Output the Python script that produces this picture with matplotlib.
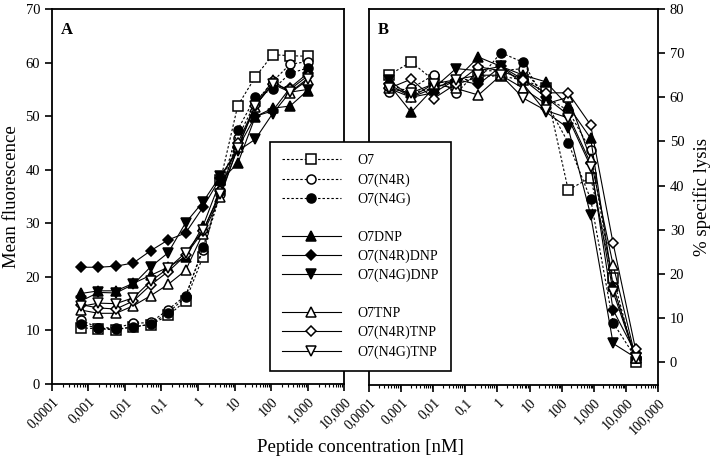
import matplotlib
matplotlib.use("Agg")
import matplotlib.pyplot as plt
from matplotlib.lines import Line2D
from matplotlib.ticker import LogLocator, FixedLocator, NullFormatter

plt.rcParams['font.family'] = ['Liberation Serif', 'DejaVu Serif']

# peptide concentrations (nM)
conc_a = [0.000627, 0.00188, 0.00565, 0.0169, 0.0508, 0.152, 0.457,
          1.37, 4.12, 12.3, 37.0, 111, 333, 1000]
conc_b = [0.00041, 0.00205, 0.0102, 0.0512, 0.256, 1.28, 6.4,
          32, 160, 800, 4000, 20000]

names = ['O7', 'O7(N4R)', 'O7(N4G)',
         'O7DNP', 'O7(N4R)DNP', 'O7(N4G)DNP',
         'O7TNP', 'O7(N4R)TNP', 'O7(N4G)TNP']

# panel A: mean fluorescence
fluor_o7 = [10.5, 10.3, 10.1, 10.7, 11.1, 12.8, 15.5, 23.8, 38.0, 52.0, 57.3, 61.5, 61.3, 61.2]
fluor_n4r = [11.9, 10.5, 10.5, 11.3, 11.5, 13.9, 16.5, 25.0, 35.5, 46.0, 52.5, 56.5, 59.7, 60.2]
fluor_n4g = [11.2, 10.4, 10.3, 10.6, 11.2, 13.3, 16.2, 25.5, 36.0, 47.5, 53.5, 55.0, 58.0, 59.0]
fluor_dnp = [16.9, 17.4, 17.4, 18.8, 20.3, 21.8, 23.8, 29.5, 38.0, 41.2, 49.9, 51.5, 51.9, 54.8]
fluor_n4r_dnp = [21.8, 21.8, 22.0, 22.6, 24.9, 26.9, 28.2, 33.0, 38.5, 44.0, 50.0, 51.0, 55.3, 58.0]
fluor_n4g_dnp = [15.5, 17.1, 17.0, 18.6, 21.9, 24.5, 30.1, 34.0, 38.9, 43.5, 45.7, 50.5, 54.5, 55.0]
fluor_tnp = [13.8, 13.2, 13.2, 14.6, 16.5, 18.6, 21.2, 28.1, 35.0, 44.3, 51.8, 56.7, 54.4, 56.7]
fluor_n4r_tnp = [14.8, 14.2, 14.0, 15.5, 18.5, 21.0, 24.0, 28.5, 36.0, 45.0, 52.0, 56.0, 55.0, 57.5]
fluor_n4g_tnp = [14.5, 15.1, 15.0, 16.1, 19.2, 21.6, 24.5, 28.7, 35.5, 44.0, 52.0, 56.0, 54.5, 57.0]

# panel B: % specific lysis
lysis_o7 = [65.0, 68.0, 63.9, 62.8, 64.8, 64.8, 63.9, 62.0, 39.0, 41.8, 19.1, 0.0]
lysis_n4r = [61.3, 62.0, 65.0, 60.9, 66.0, 66.0, 66.5, 60.0, 57.0, 48.0, 17.0, 1.0]
lysis_n4g = [63.0, 61.0, 62.0, 64.0, 64.0, 70.1, 67.9, 59.0, 49.7, 36.9, 8.9, 1.0]
lysis_dnp = [63.0, 56.6, 62.0, 64.0, 69.1, 67.0, 65.0, 63.5, 58.0, 50.7, 17.2, 1.0]
lysis_n4r_dnp = [63.0, 60.0, 61.0, 64.0, 62.9, 67.0, 64.0, 60.0, 56.0, 45.0, 11.8, 2.0]
lysis_n4g_dnp = [64.0, 60.0, 62.0, 66.5, 66.0, 67.0, 63.0, 56.7, 53.0, 33.3, 4.2, 1.0]
lysis_tnp = [62.0, 60.0, 63.0, 62.0, 60.5, 65.0, 62.0, 58.5, 60.0, 46.0, 22.0, 1.0]
lysis_n4r_tnp = [62.0, 64.1, 59.7, 63.0, 66.9, 66.0, 64.0, 61.0, 61.0, 53.7, 26.9, 2.9]
lysis_n4g_tnp = [62.0, 61.0, 63.0, 64.0, 65.0, 65.0, 59.8, 57.0, 55.3, 44.3, 15.9, 1.0]

fluor = [fluor_o7, fluor_n4r, fluor_n4g, fluor_dnp, fluor_n4r_dnp, fluor_n4g_dnp,
         fluor_tnp, fluor_n4r_tnp, fluor_n4g_tnp]
lysis = [lysis_o7, lysis_n4r, lysis_n4g, lysis_dnp, lysis_n4r_dnp, lysis_n4g_dnp,
         lysis_tnp, lysis_n4r_tnp, lysis_n4g_tnp]

ticks_a = [1e-4, 1e-3, 1e-2, 1e-1, 1, 10, 100, 1000, 10000]
ticklabels_a = ['0,0001', '0,001', '0,01', '0,1', '1', '10', '100', '1,000', '10,000']
ticks_b = ticks_a + [100000]
ticklabels_b = ticklabels_a + ['100,000']

# marker, filled?, dashed?
styles = [('s', False, True), ('o', False, True), ('o', True, True),
          ('^', True, False), ('D', True, False), ('v', True, False),
          ('^', False, False), ('D', False, False), ('v', False, False)]


def series_kw(marker, filled, dashed):
    return dict(color='black', lw=0.8,
                ls=(0, (2.2, 1.8)) if dashed else '-',
                marker=marker, ms=5.5 if marker == 'D' else 6.5,
                mfc='black' if filled else 'white', mec='black', mew=1.1)


def style_xaxis(ax, ticks, labels):
    ax.set_xscale('log')
    ax.xaxis.set_major_locator(FixedLocator(ticks))
    ax.xaxis.set_minor_locator(LogLocator(base=10, subs=range(2, 10), numticks=20))
    ax.xaxis.set_minor_formatter(NullFormatter())
    ax.set_xticklabels(labels, rotation=45, ha='right', rotation_mode='anchor')
    ax.tick_params(axis='x', which='major', direction='out', length=5, width=1.2, labelsize=10, pad=3)
    ax.tick_params(axis='x', which='minor', direction='out', length=2.5, width=0.8)
    for s in ax.spines.values():
        s.set_linewidth(1.3)


fig = plt.figure(figsize=(7.2, 4.68), dpi=100)
ax_a = fig.add_axes([0.0722, 0.1795, 0.4056, 0.801])
ax_b = fig.add_axes([0.5125, 0.1774, 0.4014, 0.8034])

for vals, st in zip(fluor, styles):
    ax_a.plot(conc_a, vals, **series_kw(*st))
for vals, st in zip(lysis, styles):
    ax_b.plot(conc_b, vals, **series_kw(*st))

style_xaxis(ax_a, ticks_a, ticklabels_a)
ax_a.set_xlim(1e-4, 1e4)
ax_a.set_ylim(0, 70)
ax_a.set_yticks(range(0, 71, 10))
ax_a.tick_params(axis='y', direction='out', length=5, width=1.2, labelsize=10.5)
ax_a.set_ylabel('Mean fluorescence', fontsize=13.5, labelpad=4)
ax_a.text(0.03, 0.965, 'A', transform=ax_a.transAxes, fontsize=12, fontweight='bold', va='top')

style_xaxis(ax_b, ticks_b, ticklabels_b)
ax_b.set_xlim(1e-4, 1e5)
ax_b.set_ylim(-5.2, 80)
ax_b.set_yticks(range(0, 81, 10))
ax_b.yaxis.tick_right()
ax_b.yaxis.set_label_position('right')
ax_b.tick_params(axis='y', direction='out', length=5, width=1.2, labelsize=10.5)
ax_b.set_ylabel('% specific lysis', fontsize=13.5, labelpad=6)
ax_b.text(0.03, 0.965, 'B', transform=ax_b.transAxes, fontsize=12, fontweight='bold', va='top')

fig.text(0.5, 0.035, 'Peptide concentration [nM]', ha='center', fontsize=13.5)

# legend with blank rows between the three groups
handles, labels = [], []
for i, (name, st) in enumerate(zip(names, styles)):
    if i in (3, 6):
        handles.append(Line2D([], [], ls='none', marker='none'))
        labels.append('')
    handles.append(Line2D([], [], **series_kw(*st)))
    labels.append(name)

leg = fig.legend(handles, labels, loc='center', bbox_to_anchor=(0.5007, 0.452),
                 fontsize=10, numpoints=1, handlelength=4.2, handletextpad=1.2,
                 labelspacing=0.42, borderpad=0.9, fancybox=False, framealpha=1)
leg.get_frame().set_edgecolor('black')
leg.get_frame().set_linewidth(1.2)

fig.savefig('out.png', dpi=100)
